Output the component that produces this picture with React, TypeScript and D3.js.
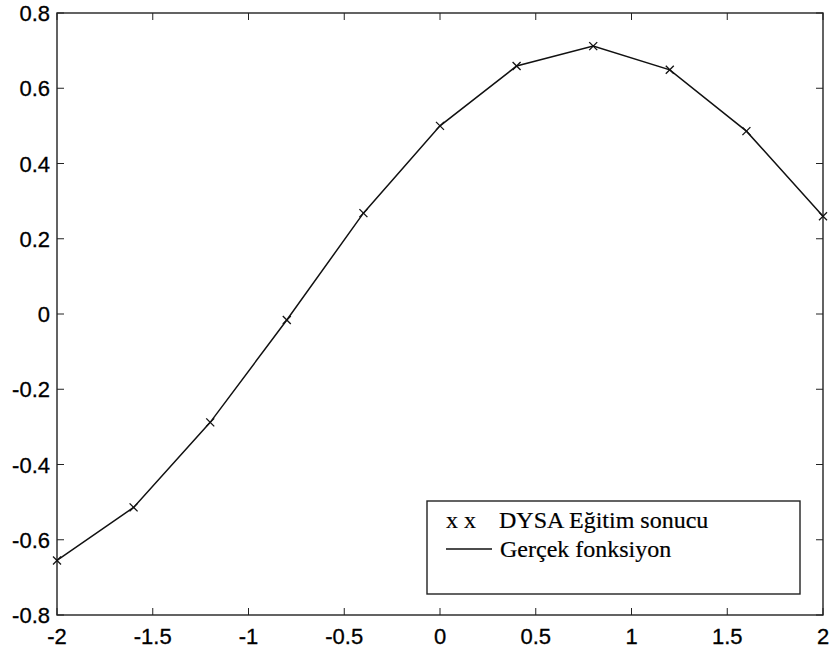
import React from "react";
import * as d3 from "d3";

const xValues = [-2, -1.6, -1.2, -0.8, -0.4, 0, 0.4, 0.8, 1.2, 1.6, 2];
const yValues = [-0.655, -0.514, -0.288, -0.016, 0.268, 0.5, 0.659, 0.712, 0.649, 0.486, 0.26];
const xTicks = [-2, -1.5, -1, -0.5, 0, 0.5, 1, 1.5, 2];
const yTicks = [-0.8, -0.6, -0.4, -0.2, 0, 0.2, 0.4, 0.6, 0.8];
const legendLabels = ["DYSA Eğitim sonucu", "Gerçek fonksiyon"];

const W = 832, H = 655;
const L = 57, R = 823, T = 13, B = 615;

export default function App() {
  const x = d3.scaleLinear().domain([-2, 2]).range([L, R]);
  const y = d3.scaleLinear().domain([-0.8, 0.8]).range([B, T]);
  const pts: [number, number][] = xValues.map((v, i) => [v, yValues[i]]);
  const line = d3.line<[number, number]>().x(d => x(d[0])).y(d => y(d[1]));
  const tl = 7;
  const fmt = (v: number) => (Math.abs(v) < 1e-9 ? "0" : String(v));
  const m = 4;
  const sans = "Arial, 'Liberation Sans', sans-serif";
  const serif = "'Liberation Serif', 'Times New Roman', serif";
  return (
    <svg width={W} height={H} style={{ position: "absolute", left: 0, top: 0, background: "#fff" }}>
      <rect x={0} y={0} width={W} height={H} fill="#fff" />
      <rect x={L} y={T} width={R - L} height={B - T} fill="none" stroke="#222" strokeWidth={1.4} />
      {xTicks.map(t => (
        <g key={"xt" + t}>
          <line x1={x(t)} x2={x(t)} y1={B} y2={B - tl} stroke="#222" />
          <line x1={x(t)} x2={x(t)} y1={T} y2={T + tl} stroke="#222" />
          <text x={x(t)} y={644} textAnchor="middle" fontFamily={sans} fontSize={22} fill="#000" stroke="#000" strokeWidth={0.3}>{fmt(t)}</text>
        </g>
      ))}
      {yTicks.map(t => (
        <g key={"yt" + t}>
          <line x1={L} x2={L + tl} y1={y(t)} y2={y(t)} stroke="#222" />
          <line x1={R} x2={R - tl} y1={y(t)} y2={y(t)} stroke="#222" />
          <text x={50} y={y(t) + 8} textAnchor="end" fontFamily={sans} fontSize={22} fill="#000" stroke="#000" strokeWidth={0.3}>{fmt(t)}</text>
        </g>
      ))}
      <path d={line(pts) || ""} fill="none" stroke="#111" strokeWidth={1.5} />
      {pts.map((p, i) => (
        <g key={"m" + i} stroke="#111" strokeWidth={1.3}>
          <line x1={x(p[0]) - m} x2={x(p[0]) + m} y1={y(p[1]) - m} y2={y(p[1]) + m} />
          <line x1={x(p[0]) - m} x2={x(p[0]) + m} y1={y(p[1]) + m} y2={y(p[1]) - m} />
        </g>
      ))}
      <rect x={427} y={501} width={373} height={93} fill="#fff" stroke="#222" strokeWidth={1.4} />
      <text x={446} y={528} fontFamily={serif} fontSize={24} fill="#000" stroke="#000" strokeWidth={0.2}>x x</text>
      <text x={499} y={528} fontFamily={serif} fontSize={24} fill="#000" stroke="#000" strokeWidth={0.2}>{legendLabels[0]}</text>
      <line x1={446} x2={492} y1={549} y2={549} stroke="#111" strokeWidth={1.3} />
      <text x={500} y={557} fontFamily={serif} fontSize={24} fill="#000" stroke="#000" strokeWidth={0.2}>{legendLabels[1]}</text>
    </svg>
  );
}
